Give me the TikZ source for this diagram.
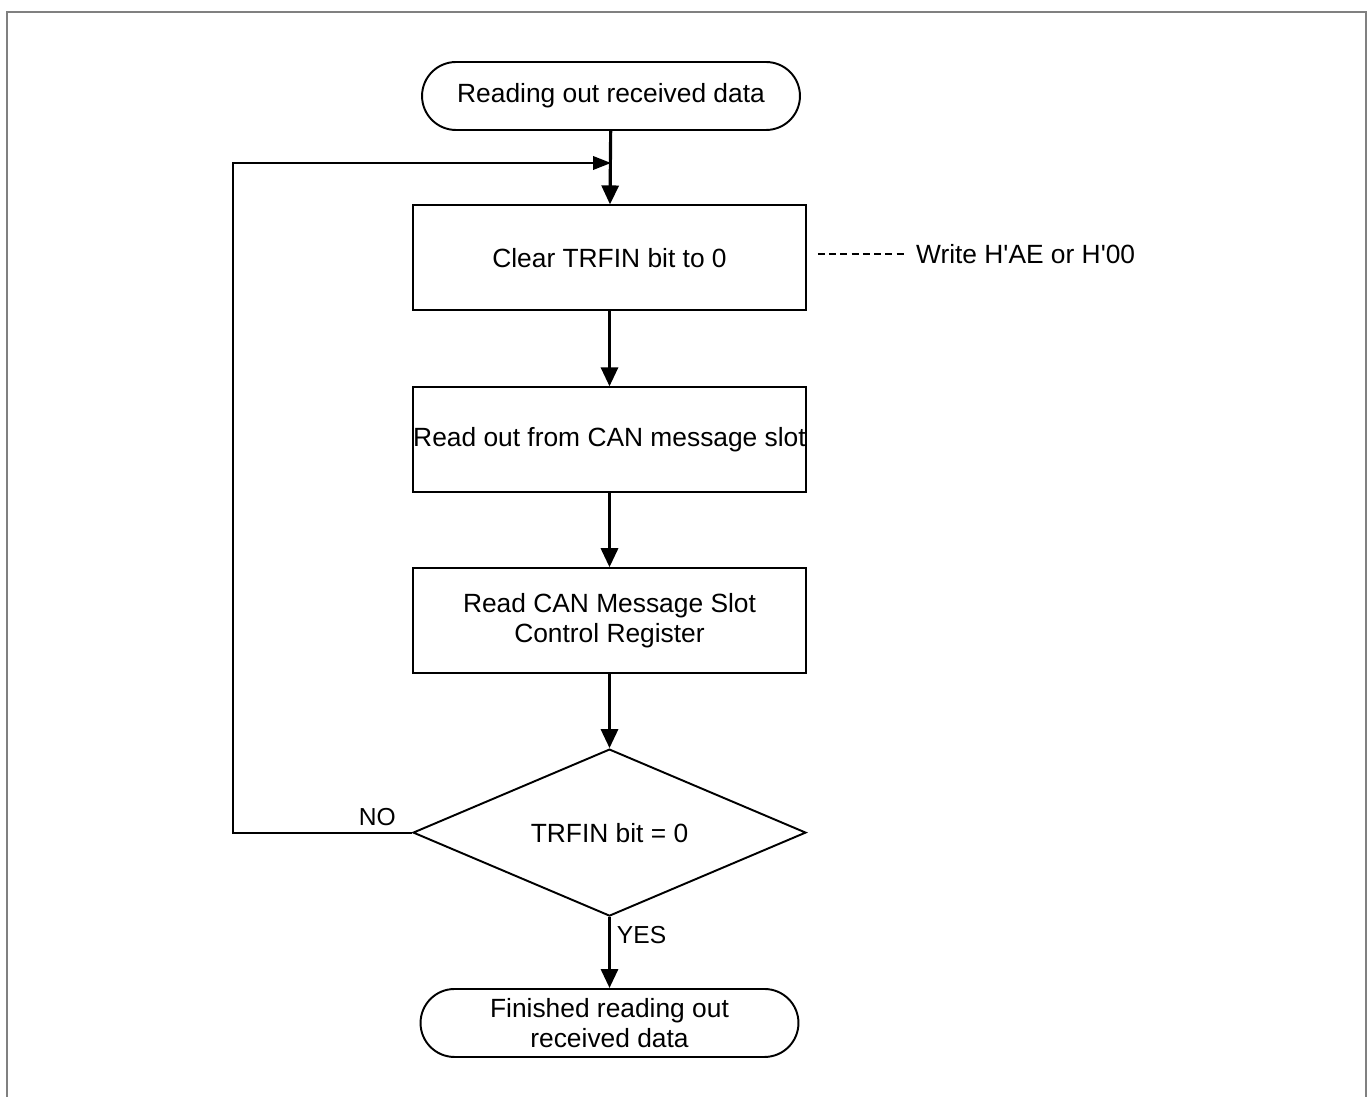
\documentclass[tikz,border=0pt]{standalone}
\usepackage{fontspec}
\setmainfont{Liberation Sans}
\usetikzlibrary{arrows.meta,positioning,shapes.geometric}

\begin{document}
\begin{tikzpicture}[x=0.02cm, y=-0.02cm,
    every node/.style={font=\fontsize{15}{17.5}\selectfont},
    terminal/.style={draw, rounded corners=0.68cm, line width=1.1pt,
                     minimum width=7.56cm, minimum height=1.36cm,
                     align=center, inner sep=1pt},
    process/.style={draw, line width=1.1pt, minimum width=7.86cm,
                    minimum height=2.1cm, align=center, inner xsep=0pt},
    decision/.style={draw, diamond, line width=1.1pt, aspect=2.35,
                     minimum width=7.86cm, minimum height=3.34cm, inner sep=0pt},
    arr/.style={-{Triangle[length=0.38cm, width=0.34cm]}, line width=1.8pt},
    node distance=1.5cm
  ]
  \useasboundingbox (0,0) rectangle (1372,1097);
  \draw[gray, line width=1.2pt] (7,1097) -- (7,12) -- (1366,12) -- (1366,1097);

  \node[terminal] (start) at (611,96) {Reading out received data};
  \node[process, below=1.47cm of start.south, anchor=north, xshift=-0.03cm] (clear) {Clear TRFIN bit to 0};
  \node[process, below=of clear] (readslot) {Read out from CAN message slot};
  \node[process, below=1.48cm of readslot] (readreg) {Read CAN Message Slot\\Control Register};
  \node[decision, below=1.48cm of readreg] (check) {TRFIN bit = 0};
  \node[terminal, below=1.42cm of check] (finish) {Finished reading out\\received data};

  \coordinate (join) at (start.south |- 0,163);
  \coordinate (bend) at (233,163);

  \draw[arr] (start) -- (clear);
  \draw[arr] (clear) -- (readslot);
  \draw[arr] (readslot) -- (readreg);
  \draw[arr] (readreg) -- (check);
  \draw[arr] (check) -- node[right, pos=0.25, font=\fontsize{14}{16}\selectfont] {YES} (finish);
  \draw[-{Triangle[length=0.36cm, width=0.27cm]}, line width=1.2pt] (check.west) -| (bend) -- (join);
  \node[above left=0.02cm and 0.2cm of check.west, font=\fontsize{14}{16}\selectfont] (no) {NO};

  % register write note
  \draw[dash pattern=on 4pt off 2.4pt, line width=1.5pt] ([xshift=0.22cm, yshift=0.08cm]clear.east) -- ++(1.74cm,0) coordinate (noteend);
  \node[right=0.1cm of noteend] (note) {Write H\textquotesingle AE or H\textquotesingle 00};
\end{tikzpicture}
\end{document}
